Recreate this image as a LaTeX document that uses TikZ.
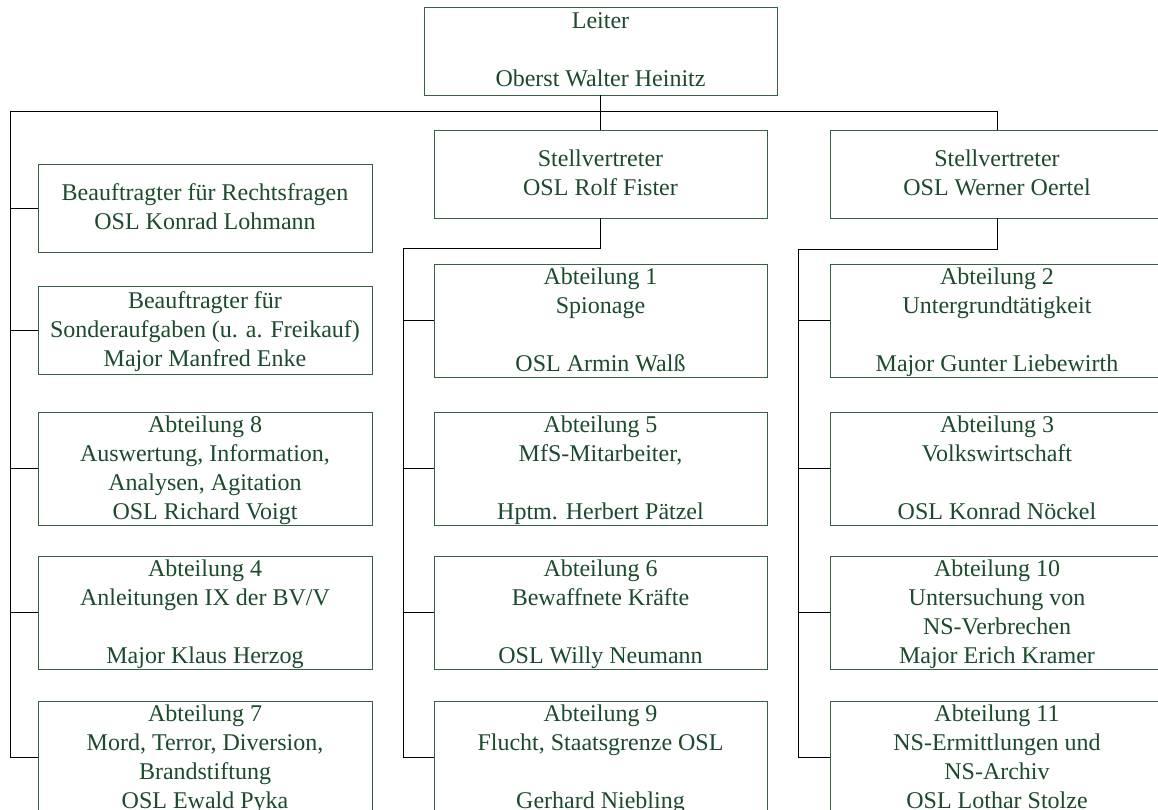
\documentclass[tikz,border=0pt]{standalone}
\usepackage{fontspec}
\setmainfont{Liberation Serif}
\definecolor{txtgreen}{RGB}{28,74,44}
\definecolor{boxgreen}{RGB}{52,98,66}
% struts keep first and last lines at a fixed height and depth
\newcommand\firstrow{\rule{0pt}{20pt}}
\newcommand\lastrow{\rule[-6pt]{0pt}{6pt}}
\tikzset{
  orgbox/.style={draw=boxgreen, line width=0.9pt, text=txtgreen, align=center,
    inner sep=0pt, font=\fontsize{24}{29}\selectfont},
  shortbox/.style={orgbox, minimum height=88pt},
  tallbox/.style={orgbox, minimum height=113pt},
  link/.style={draw=black, line width=0.8pt}
}
\begin{document}
\begin{tikzpicture}[x=1pt,y=-1pt]
  \clip (0,0) rectangle (1158,810);
  \fill[white] (0,0) rectangle (1158,810);

  % head and deputies
  \node[shortbox, minimum width=353pt] (lead) at (600.5,51)
    {\firstrow Leiter\\[29pt]Oberst Walter Heinitz\lastrow};
  \node[shortbox, minimum width=333pt] (dep1) at (600.5,174)
    {\firstrow Stellvertreter\\OSL Rolf Fister\lastrow};
  \node[shortbox, minimum width=334pt] (dep2) at (997,174)
    {\firstrow Stellvertreter\\OSL Werner Oertel\lastrow};

  % left column: directly under the head
  \node[shortbox, minimum width=334pt] (l1) at (205,208)
    {\firstrow Beauftragter für Rechtsfragen\\OSL Konrad Lohmann\lastrow};
  \node[shortbox, minimum width=334pt] (l2) at (205,330)
    {\firstrow Beauftragter für\\Sonderaufgaben (u. a. Freikauf)\\Major Manfred Enke\lastrow};
  \node[tallbox, minimum width=334pt] (l3) at (205,468.5)
    {\firstrow Abteilung 8\\Auswertung, Information,\\Analysen, Agitation\\OSL Richard Voigt\lastrow};
  \node[tallbox, minimum width=334pt] (l4) at (205,612.5)
    {\firstrow Abteilung 4\\Anleitungen IX der BV/V\\[29pt]Major Klaus Herzog\lastrow};
  \node[tallbox, minimum width=334pt] (l5) at (205,757.5)
    {\firstrow Abteilung 7\\Mord, Terror, Diversion,\\Brandstiftung\\OSL Ewald Pyka\lastrow};

  % middle column: first deputy
  \node[tallbox, minimum width=333pt] (m1) at (600.5,320.5)
    {\firstrow Abteilung 1\\Spionage\\[29pt]OSL Armin Walß\lastrow};
  \node[tallbox, minimum width=333pt] (m5) at (600.5,468.5)
    {\firstrow Abteilung 5\\MfS-Mitarbeiter,\\[29pt]Hptm. Herbert Pätzel\lastrow};
  \node[tallbox, minimum width=333pt] (m6) at (600.5,612.5)
    {\firstrow Abteilung 6\\Bewaffnete Kräfte\\[29pt]OSL Willy Neumann\lastrow};
  \node[tallbox, minimum width=333pt] (m9) at (600.5,757.5)
    {\firstrow Abteilung 9\\Flucht, Staatsgrenze OSL\\[29pt]Gerhard Niebling\lastrow};

  % right column: second deputy
  \node[tallbox, minimum width=334pt] (r2) at (997,320.5)
    {\firstrow Abteilung 2\\Untergrundtätigkeit\\[29pt]Major Gunter Liebewirth\lastrow};
  \node[tallbox, minimum width=334pt] (r3) at (997,468.5)
    {\firstrow Abteilung 3\\Volkswirtschaft\\[29pt]OSL Konrad Nöckel\lastrow};
  \node[tallbox, minimum width=334pt] (r10) at (997,612.5)
    {\firstrow Abteilung 10\\Untersuchung von\\NS-Verbrechen\\Major Erich Kramer\lastrow};
  \node[tallbox, minimum width=334pt] (r11) at (997,757.5)
    {\firstrow Abteilung 11\\NS-Ermittlungen und\\NS-Archiv\\OSL Lothar Stolze\lastrow};

  % bus lines
  \coordinate (busL) at (10,111);
  \coordinate (busR) at (997,111);
  \coordinate (midbus) at (403,248);
  \coordinate (rbus) at (798,249);

  \draw[link] (lead.south) -- (dep1.north);
  \draw[link] (busL) -- (busR) -- (dep2.north);
  \draw[link] (busL) |- (l5.west);
  \foreach \n in {l1,l2,l3,l4}
    \draw[link] (busL |- \n.west) -- (\n.west);

  \draw[link] (dep1.south) -- (dep1.south |- midbus) -- (midbus) |- (m9.west);
  \foreach \n in {m1,m5,m6}
    \draw[link] (midbus |- \n.west) -- (\n.west);

  \draw[link] (dep2.south) -- (dep2.south |- rbus) -- (rbus) |- (r11.west);
  \foreach \n in {r2,r3,r10}
    \draw[link] (rbus |- \n.west) -- (\n.west);
\end{tikzpicture}
\end{document}
